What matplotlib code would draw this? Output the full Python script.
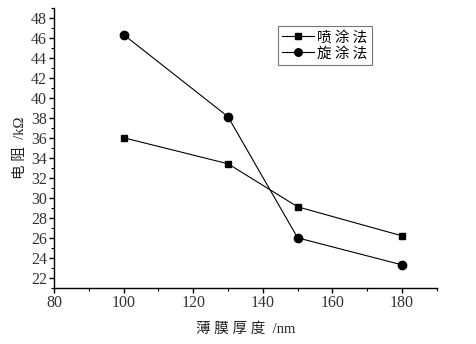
import matplotlib
matplotlib.use("Agg")
import matplotlib.pyplot as plt
from matplotlib.ticker import MultipleLocator

thickness = [100, 130, 150, 180]
spray = [36.0, 33.4, 29.1, 26.2]
spin = [46.3, 38.1, 26.0, 23.3]
labels = ["喷 涂 法", "旋 涂 法"]

cjk = ["Noto Sans CJK SC", "DejaVu Sans"]
mixed = ["Liberation Serif", "Noto Sans CJK SC", "DejaVu Sans"]
serif = ["Liberation Serif", "DejaVu Serif"]

fig = plt.figure(figsize=(4.77, 3.44), dpi=100)
ax = fig.add_axes([0.113, 0.163, 0.803, 0.815])

ax.plot(thickness, spray, color="black", lw=0.8, marker="s", ms=4.5, label=labels[0])
ax.plot(thickness, spin, color="black", lw=0.8, marker="o", ms=6, label=labels[1])

ax.set_xlim(80, 190)
ax.set_ylim(21, 49)
ax.xaxis.set_major_locator(MultipleLocator(20))
ax.xaxis.set_minor_locator(MultipleLocator(10))
ax.yaxis.set_major_locator(MultipleLocator(2))
ax.yaxis.set_minor_locator(MultipleLocator(1))
ax.set_yticks(range(22, 49, 2))

for s in ["top", "right"]:
    ax.spines[s].set_visible(False)
for s in ["left", "bottom"]:
    ax.spines[s].set_linewidth(1.0)

ax.tick_params(which="major", direction="out", length=3.5, width=1.0, labelsize=11.5, pad=1.5)
ax.tick_params(which="minor", direction="out", length=2, width=0.8)
for lab in ax.get_xticklabels() + ax.get_yticklabels():
    lab.set_fontfamily(serif)
    lab.set_color("#333333")

ax.set_xlabel("薄 膜 厚 度  /nm", fontsize=10.5, family=mixed, labelpad=8, color="#222222")
ax.set_ylabel("电 阻  /kΩ", fontsize=10.5, family=mixed, labelpad=3, color="#222222")

leg = ax.legend(loc="upper left", bbox_to_anchor=(0.585, 0.935), prop={"family": cjk, "size": 10.5},
                frameon=True, fancybox=False, edgecolor="#555555", handlelength=2.2,
                handletextpad=0.2, borderpad=0.3, labelspacing=0.15, borderaxespad=0,
                markerscale=0.9)
leg.get_frame().set_linewidth(0.8)

fig.savefig("out.png", dpi=100)
